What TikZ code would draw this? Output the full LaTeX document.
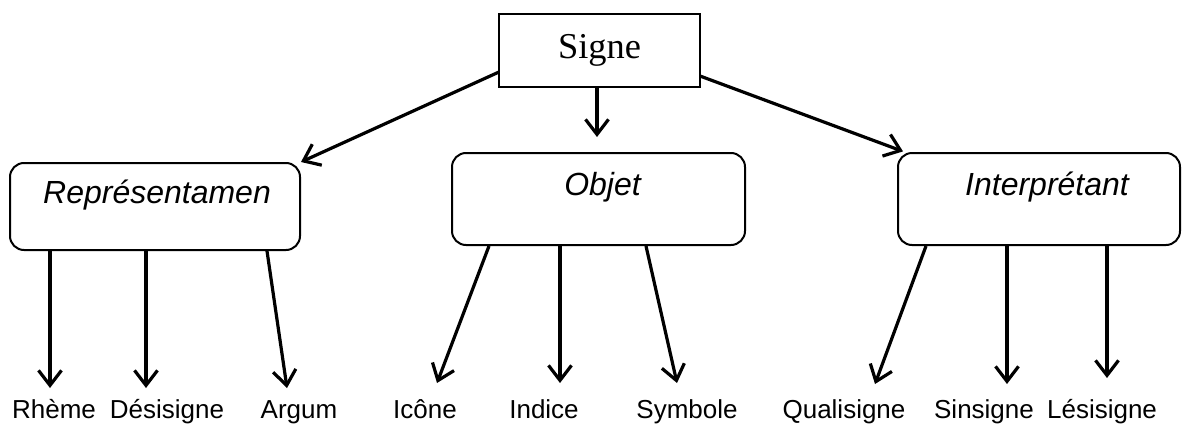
\documentclass[tikz,border=0pt]{standalone}
\usepackage{fontspec}
\setmainfont{Liberation Serif}
\newfontfamily\arialfont{Liberation Sans}
\usetikzlibrary{arrows.meta}
\begin{document}
\begin{tikzpicture}[x=0.5pt,y=-0.5pt,
  arr/.style={line width=1.6pt,-{Straight Barb[length=7.5pt,width=11.5pt,line width=1.6pt]}},
  topbox/.style={draw,line width=0.7pt,minimum width=100.5pt,minimum height=36.5pt,font=\fontsize{18.2}{20}\selectfont},
  catbox/.style={draw,line width=1pt,rounded corners=7pt,font=\arialfont\itshape\fontsize{16}{18}\selectfont,text height=11.5pt,text depth=15pt},
  leaf/.style={font=\arialfont\fontsize{13}{15}\selectfont,inner sep=0pt,anchor=base}]
\useasboundingbox (0,0) rectangle (1183,423);
\node[topbox] (signe) at (599.5,50.5) {Signe};
\node[catbox,minimum width=145pt,minimum height=43.5pt] (rep) at (155,206.5) {\hspace*{2pt}Représentamen};
\node[catbox,minimum width=146.5pt,minimum height=46pt] (obj) at (598.5,199) {\hspace*{4pt}Objet};
\node[catbox,minimum width=141pt,minimum height=46pt] (int) at (1039,199) {\hspace*{8pt}Interprétant};
% leaves
\node[leaf] (rheme) at (54,418) {Rhème};
\node[leaf] (desi) at (167,418) {Désisigne};
\node[leaf] (argum) at (299,418) {Argum};
\node[leaf] (icone) at (425,418) {Icône};
\node[leaf] (indice) at (544,418) {Indice};
\node[leaf] (symb) at (687,418) {Symbole};
\node[leaf] (quali) at (844,418) {Qualisigne};
\node[leaf] (sins) at (984,418) {Sinsigne};
\node[leaf] (lesi) at (1102,418) {Lésisigne};
% tip coordinates
\coordinate (trheme) at (50,388);
\coordinate (tdesi) at (146,388);
\coordinate (targum) at (287,388);
\coordinate (ticone) at (437,383);
\coordinate (tindice) at (560,383);
\coordinate (tsymb) at (677,383);
\coordinate (tquali) at (875,384);
\coordinate (tsins) at (1007,384);
\coordinate (tlesi) at (1107,378);
% top arrows
\coordinate (tl) at (499,72);
\coordinate (tr) at (700,76);
\coordinate (tobj) at (597,137);
\draw[arr] (tl) -- (rep.north east);
\draw[arr] (signe.south -| tobj) -- (tobj);
\draw[arr] (tr) -- ([xshift=3pt,yshift=0.3pt]int.north west);
% representamen
\draw[arr] (rep.south -| trheme) -- (trheme);
\draw[arr] (rep.south -| tdesi) -- (tdesi);
\draw[arr] (rep.south -| 267,0) -- (targum);
% objet
\draw[arr] (obj.south -| 489,0) -- (ticone);
\draw[arr] (obj.south -| tindice) -- (tindice);
\draw[arr] (obj.south -| 646,0) -- (tsymb);
% interpretant
\draw[arr] (int.south -| 926,0) -- (tquali);
\draw[arr] (int.south -| tsins) -- (tsins);
\draw[arr] (int.south -| tlesi) -- (tlesi);
\end{tikzpicture}
\end{document}
